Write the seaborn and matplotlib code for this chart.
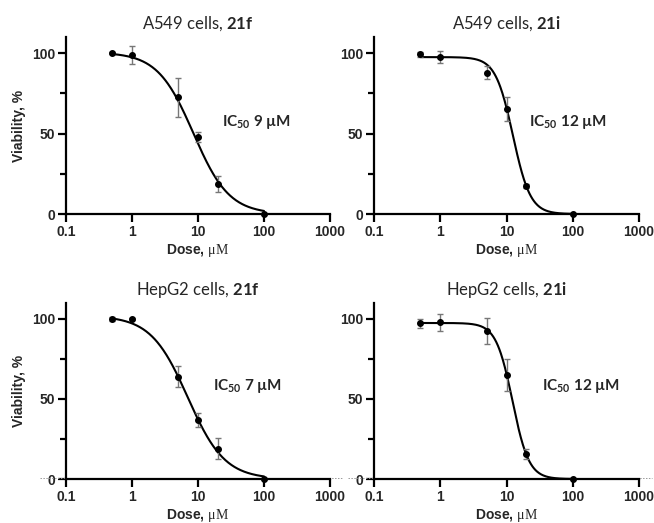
import numpy as np
import matplotlib
matplotlib.use("Agg")
import matplotlib.pyplot as plt
from matplotlib.ticker import FixedLocator, NullLocator
import seaborn as sns

# data
dose = [0.5, 1, 5, 10, 20, 100]

titles = ["A549 cells, 21f", "A549 cells, 21i", "HepG2 cells, 21f", "HepG2 cells, 21i"]
ic50_labels = ["9", "12", "7", "12"]

a549_21f = [100, 98.8, 72.4, 47.9, 18.5, 0]
a549_21f_err = [0.5, 5.5, 12.2, 3.3, 4.9, 0]
a549_21i = [99.2, 97.7, 87.8, 65.4, 17.4, 0]
a549_21i_err = [1.5, 3.8, 4.0, 7.3, 1.5, 0]
hepg2_21f = [100, 100, 64, 37, 18.9, 0]
hepg2_21f_err = [1.2, 0.8, 6.6, 4.2, 6.7, 0]
hepg2_21i = [97.3, 97.9, 92.3, 64.7, 15.7, 0]
hepg2_21i_err = [2.8, 5.5, 8.1, 10.0, 3.0, 0]

# fitted 4PL curve parameters (top, bottom, IC50, Hill slope)
fit_top = [100.5, 97.5, 102, 97.5]
fit_bottom = [0, 0, 0, 0]
fit_ic50 = [8.5, 12.5, 7.0, 12.3]
fit_hill = [1.6, 3.3, 1.55, 3.5]

label_pos = [(23, 57), (22, 57), (17, 58), (34, 58)]

values = [a549_21f, a549_21i, hepg2_21f, hepg2_21i]
errors = [a549_21f_err, a549_21i_err, hepg2_21f_err, hepg2_21i_err]

sns.set_theme(style="ticks")
plt.rcParams["font.family"] = ["Liberation Sans", "DejaVu Sans"]
plt.rcParams["mathtext.fontset"] = "custom"
plt.rcParams["mathtext.rm"] = "Liberation Serif"
plt.rcParams["mathtext.bf"] = "Lato:bold"

fig = plt.figure(figsize=(6.54, 5.23), dpi=100)
boxes = [
    [0.1009, 0.5908, 0.4037, 0.3385],
    [0.5719, 0.5908, 0.4052, 0.3385],
    [0.1009, 0.0841, 0.4037, 0.3366],
    [0.5719, 0.0841, 0.4052, 0.3366],
]

for i in range(4):
    ax = fig.add_axes(boxes[i])
    xs = np.logspace(np.log10(0.5), np.log10(100), 300)
    ys = fit_bottom[i] + (fit_top[i] - fit_bottom[i]) / (1 + (xs / fit_ic50[i]) ** fit_hill[i])
    sns.lineplot(x=xs, y=ys, ax=ax, color="black", linewidth=1.5, clip_on=False)
    ax.errorbar(dose, values[i], yerr=errors[i], fmt="none", ecolor="#777777",
                elinewidth=1.0, capsize=2.5, capthick=1.0, clip_on=False, zorder=3)
    ax.plot(dose, values[i], "o", color="black", markersize=4, clip_on=False, zorder=4)

    if i >= 2:
        ax.axhline(0.8, color="#999999", linestyle=(0, (1.5, 1.5)), linewidth=0.7,
                   xmin=-0.1, xmax=1.05, clip_on=False, zorder=1)

    ax.set_xscale("log")
    ax.set_xlim(0.1, 1000)
    ax.set_ylim(0, 110)
    ax.xaxis.set_major_locator(FixedLocator([0.1, 1, 10, 100, 1000]))
    ax.set_xticklabels(["0.1", "1", "10", "100", "1000"])
    ax.xaxis.set_minor_locator(NullLocator())
    ax.yaxis.set_major_locator(FixedLocator([0, 50, 100]))
    ax.yaxis.set_minor_locator(FixedLocator([25, 75]))

    for s in ["top", "right"]:
        ax.spines[s].set_visible(False)
    for s in ["left", "bottom"]:
        ax.spines[s].set_linewidth(1.6)
        ax.spines[s].set_color("black")
    ax.tick_params(axis="both", which="major", length=6, width=1.6, color="black",
                   labelsize=10, pad=2)
    ax.tick_params(axis="y", which="minor", length=4, width=1.6, color="black")
    for lab in ax.get_xticklabels() + ax.get_yticklabels():
        lab.set_fontweight("bold")

    ax.set_xlabel(r"Dose, $\mathrm{\mu M}$", fontsize=10, fontweight="bold", labelpad=2)
    if i % 2 == 0:
        ax.set_ylabel("Viability, %", fontsize=10, fontweight="bold", labelpad=4)
    else:
        ax.set_ylabel("")

    name, comp = titles[i].rsplit(" ", 1)
    ax.set_title(name + r" $\mathbf{" + comp + "}$", fontsize=12, family="Lato", pad=6)
    ax.text(label_pos[i][0], label_pos[i][1],
            r"IC$_{\mathbf{50}}$ " + ic50_labels[i] + " \u00b5M",
            family="Lato", fontweight="bold", fontsize=11, va="center", ha="left")

fig.savefig("out.png", dpi=100)
